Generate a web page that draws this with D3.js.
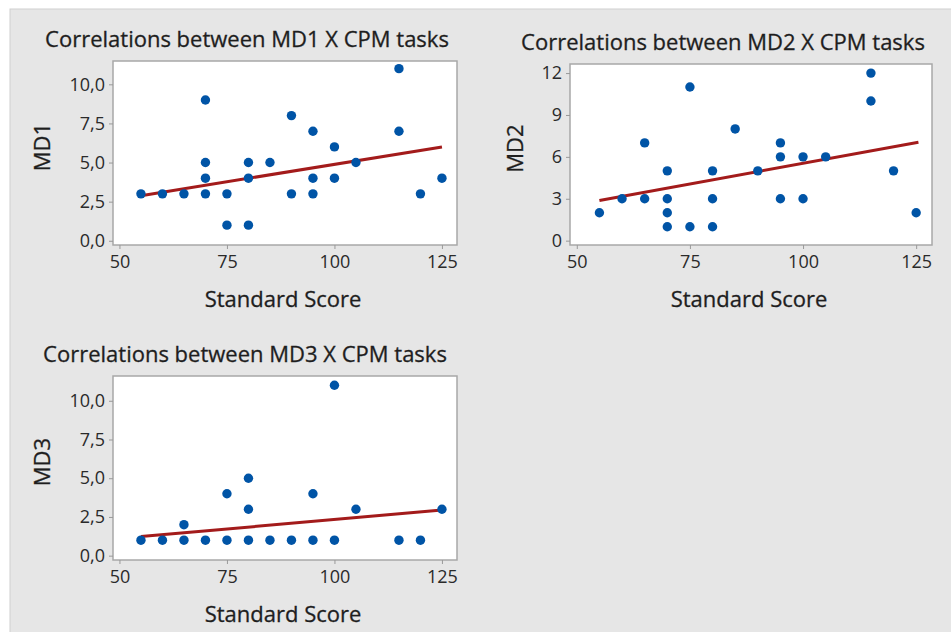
<!DOCTYPE html>
<html>
<head>
<meta charset="utf-8">
<script src="https://cdn.jsdelivr.net/npm/d3@7"></script>
<style>
  body { margin: 0; background: #fff; }
  svg text { font-family: "Open Sans", "Noto Sans", sans-serif; fill: #1e1e1e; }
</style>
</head>
<body>
<svg id="chart" width="951" height="632"></svg>
<script>
// data
const xTicks = [50, 75, 100, 125];

const md1Score = [55, 60, 65, 70, 70, 70, 70, 75, 75, 80, 80, 80, 85, 90, 90, 95, 95, 95, 100, 100, 105, 115, 115, 120, 125];
const md1Value = [3, 3, 3, 9, 5, 4, 3, 3, 1, 5, 4, 1, 5, 8, 3, 7, 4, 3, 6, 4, 5, 11, 7, 3, 4];
const md1Fit = [[55, 2.88], [125, 6.0]];
const md1Ticks = [0, 2.5, 5, 7.5, 10];

const md2Score = [55, 60, 65, 65, 70, 70, 70, 70, 75, 75, 80, 80, 80, 85, 90, 95, 95, 95, 100, 100, 105, 115, 115, 120, 125];
const md2Value = [2, 3, 7, 3, 5, 3, 2, 1, 11, 1, 5, 3, 1, 8, 5, 7, 6, 3, 6, 3, 6, 12, 10, 5, 2];
const md2Fit = [[55, 2.87], [125.5, 7.05]];
const md2Ticks = [0, 3, 6, 9, 12];

const md3Score = [55, 60, 65, 65, 70, 75, 75, 80, 80, 80, 85, 90, 95, 95, 100, 100, 105, 115, 120, 125];
const md3Value = [1, 1, 2, 1, 1, 4, 1, 5, 3, 1, 1, 1, 4, 1, 11, 1, 3, 1, 1, 3];
const md3Fit = [[55, 1.23], [125, 2.95]];

const svg = d3.select("#chart");

// grey backdrop like the minitab graph window
svg.append("rect")
  .attr("x", 10).attr("y", 9)
  .attr("width", 951).attr("height", 632)
  .attr("fill", "#e6e6e6")
  .attr("stroke", "#d0d0d0");

function drawPanel (opt) {
  const g = svg.append("g");

  const xScale = d3.scaleLinear()
    .domain([48.5, 128.5])
    .range([opt.left, opt.right]);

  const yScale = d3.scaleLinear()
    .domain(opt.yDomain)
    .range([opt.bottom, opt.top]);

  // plot area
  g.append("rect")
    .attr("x", opt.left).attr("y", opt.top)
    .attr("width", opt.right - opt.left)
    .attr("height", opt.bottom - opt.top)
    .attr("fill", "#fff")
    .attr("stroke", "#a8a8a8")
    .attr("stroke-width", 1.5);

  // x-axis //
  const xAxis = g.append("g")
    .attr("transform", `translate(0, ${opt.bottom})`)
    .call(d3.axisBottom(xScale).tickValues(xTicks).tickSize(4).tickPadding(6));
  xAxis.select(".domain").remove();
  xAxis.selectAll("line").attr("stroke", "#999");
  xAxis.selectAll("text").style("font-size", "18px").style("fill", "#2a2a2a");

  // y-axis //
  const yAxis = g.append("g")
    .attr("transform", `translate(${opt.left}, 0)`)
    .call(d3.axisLeft(yScale).tickValues(opt.yTicks).tickSize(4).tickPadding(4).tickFormat(opt.fmt));
  yAxis.select(".domain").remove();
  yAxis.selectAll("line").attr("stroke", "#999");
  yAxis.selectAll("text").style("font-size", "18px").style("fill", "#2a2a2a");

  // titles
  g.append("text")
    .attr("x", opt.titleX)
    .attr("y", opt.top - 14)
    .style("text-anchor", "middle")
    .style("font-size", "22px")
    .style("stroke", "#1e1e1e")
    .style("stroke-width", 0.3)
    .text(opt.title);

  g.append("text")
    .attr("x", (opt.left + opt.right) / 2 - 2)
    .attr("y", opt.bottom + 62)
    .style("text-anchor", "middle")
    .style("font-size", "22px")
    .style("stroke", "#1e1e1e")
    .style("stroke-width", 0.3)
    .text("Standard Score");

  g.append("text")
    .attr("transform", "rotate(-90)")
    .attr("x", -(opt.top + opt.bottom) / 2 + 6)
    .attr("y", opt.labelX)
    .style("text-anchor", "middle")
    .style("font-size", "22px")
    .style("stroke", "#1e1e1e")
    .style("stroke-width", 0.3)
    .text(opt.yLabel);

  // fitted line
  g.append("path")
    .datum(opt.fit)
    .attr("d", d3.line()
      .x(d => xScale(d[0]))
      .y(d => yScale(d[1])))
    .attr("stroke", "#a31b1b")
    .attr("stroke-width", 3)
    .attr("fill", "none");

  // scatter
  g.selectAll("circle")
    .data(opt.xs.map((d, i) => ({x: d, y: opt.ys[i]})))
    .join("circle")
    .attr("cx", d => xScale(d.x))
    .attr("cy", d => yScale(d.y))
    .attr("r", 4.7)
    .attr("fill", "#0054a6");
}

const fmtComma = d => d3.format(".1f")(d).replace(".", ",");

drawPanel({
  left: 113, right: 457, top: 61, bottom: 245,
  yDomain: [-0.27, 11.49], yTicks: md1Ticks, fmt: fmtComma,
  xs: md1Score, ys: md1Value, fit: md1Fit,
  title: "Correlations between MD1 X CPM tasks", titleX: 247,
  yLabel: "MD1", labelX: 50
});

drawPanel({
  left: 570, right: 932, top: 64, bottom: 245,
  yDomain: [-0.31, 12.65], yTicks: md2Ticks, fmt: d3.format("d"),
  xs: md2Score, ys: md2Value, fit: md2Fit,
  title: "Correlations between MD2 X CPM tasks", titleX: 723,
  yLabel: "MD2", labelX: 523
});

drawPanel({
  left: 113, right: 457, top: 376, bottom: 560,
  yDomain: [-0.28, 11.6], yTicks: md1Ticks, fmt: fmtComma,
  xs: md3Score, ys: md3Value, fit: md3Fit,
  title: "Correlations between MD3 X CPM tasks", titleX: 245,
  yLabel: "MD3", labelX: 50
});
</script>
</body>
</html>
